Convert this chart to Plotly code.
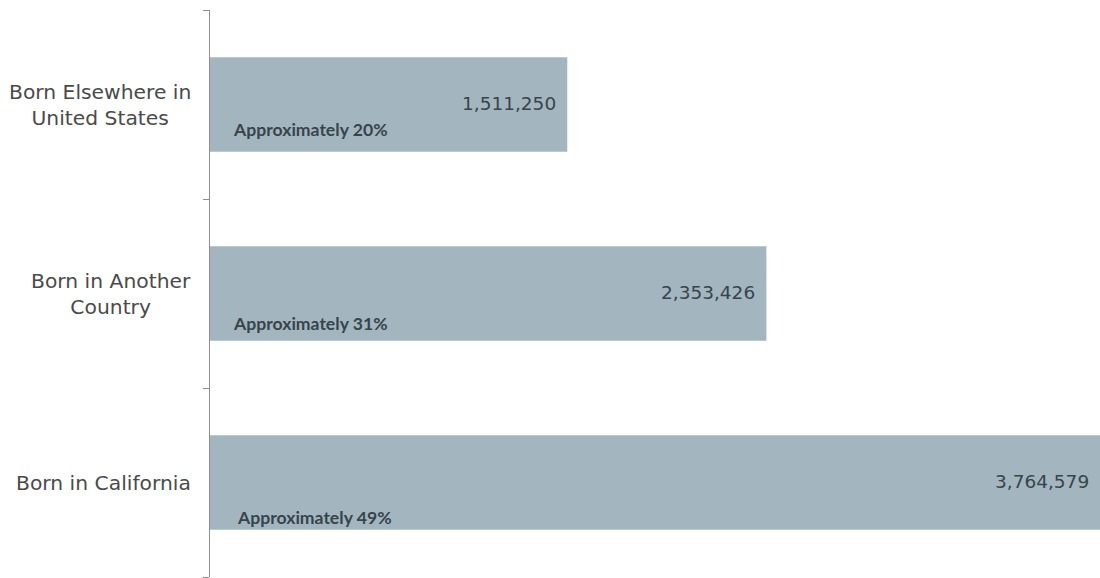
import plotly.graph_objects as go

categories = ["Born in California", "Born in Another Country", "Born Elsewhere in United States"]
category_labels = ["Born in California", "Born in Another<br>Country", "Born Elsewhere in<br>United States"]
values = [3764579, 2353426, 1511250]
value_labels = ["3,764,579", "2,353,426", "1,511,250"]
share_labels = ["Approximately 49%", "Approximately 31%", "Approximately 20%"]

# style offsets (pixels) for the share labels
share_xshift = [25, 21, 21]
share_yshift = [-35, -30, -25]

bar_color = "#a3b6c0"
text_color = "#38444b"
label_color = "#4a4a4a"

fig = go.Figure()
fig.add_trace(go.Bar(
    y=categories, x=values, orientation="h",
    marker=dict(color=bar_color, line=dict(width=0)),
    hoverinfo="skip", showlegend=False,
))

annotations = []
for i, (c, cl, v, vl, sl) in enumerate(zip(categories, category_labels, values, value_labels, share_labels)):
    annotations.append(dict(x=v, y=c, xref="x", yref="y", text=vl, showarrow=False,
                            xanchor="right", yanchor="middle", xshift=-9, yshift=1,
                            font=dict(family="DejaVu Sans", size=18.5, color=text_color)))
    annotations.append(dict(x=0, y=c, xref="x", yref="y", text=sl, showarrow=False,
                            xanchor="left", yanchor="middle",
                            xshift=share_xshift[i], yshift=share_yshift[i],
                            font=dict(family="Lato", size=17.6, weight="bold", color=text_color)))
    annotations.append(dict(x=0, y=c, xref="paper", yref="y", text=cl, showarrow=False,
                            xanchor="right", yanchor="middle", align="center", xshift=-17,
                            font=dict(family="DejaVu Sans", size=20.3, color=label_color)))

fig.update_layout(
    width=1100, height=578,
    margin=dict(l=210, r=0, t=10, b=1),
    paper_bgcolor="white", plot_bgcolor="white",
    bargap=0.5,
    annotations=annotations,
    xaxis=dict(range=[0, values[0]], visible=False, fixedrange=True),
    yaxis=dict(
        type="category",
        showline=True, linecolor="#8f8f8f", linewidth=1,
        ticks="outside", tickson="boundaries", ticklen=6, tickcolor="#8f8f8f",
        showticklabels=False,
        showgrid=False, zeroline=False,
    ),
)

fig.write_html("out.html")
